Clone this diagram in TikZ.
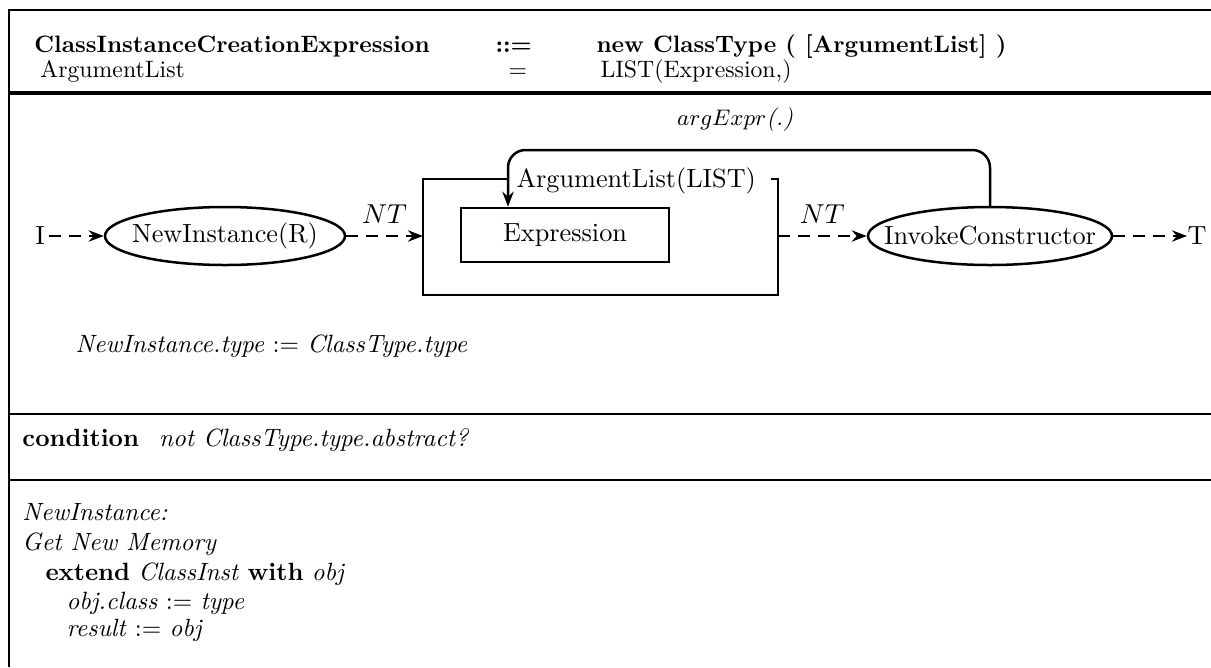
\documentclass[tikz,border=0pt]{standalone}
\usetikzlibrary{arrows.meta,shapes.geometric}
\tikzset{
  frame/.style={line width=1.15pt},
  thickframe/.style={line width=1.45pt},
  dfont/.style={font=\fontsize{10.5}{12.5}\selectfont},
  hfont/.style={font=\fontsize{9.5}{11.5}\selectfont},
  ell/.style={draw,ellipse,line width=1pt,inner ysep=0pt,inner xsep=-12pt,dfont},
  box/.style={draw,rectangle,line width=1pt,inner sep=0pt,dfont},
  dflow/.style={line width=1pt,dash pattern=on 4.8pt off 3.2pt,-{Stealth[length=6pt,width=4.5pt]}},
  loopflow/.style={line width=1pt,rounded corners=7pt,-{Stealth[length=6pt,width=4.5pt]}},
  txt/.style={inner sep=0pt,anchor=base west},
  htxt/.style={txt,hfont},
  lbl/.style={inner sep=0pt,dfont},
}
\begin{document}
\begin{tikzpicture}[x=0.4pt,y=-0.4pt,font=\fontsize{10}{12}\selectfont]
\useasboundingbox (0,0) rectangle (1211,667);
% frame
\draw[frame] (1211,10) -- (9,10) -- (9,667);
\draw[thickframe] (9,93) -- (1211,93);
\draw[frame] (9,414) -- (1211,414);
\draw[frame] (9,480) -- (1211,480);
% header
\node[htxt] (h1) at (34,52) {\textbf{ClassInstanceCreationExpression}};
\node[htxt] (h1b) at (495,52) {\textbf{::=}};
\node[htxt] (h1c) at (596,52) {\textbf{new ClassType ( [ArgumentList] )}};
\node[htxt] (h2) at (40,77) {ArgumentList};
\node[htxt] (h2b) at (508,77) {=};
\node[htxt] (h2c) at (600,77) {LIST(Expression,)};
% diagram
\node[lbl] (I) at (40,236) {I};
\node[ell,minimum width=96pt,minimum height=23.2pt] (NI) at (225,236) {NewInstance(R)};
\coordinate (ALw) at (423,236);
\coordinate (ALe) at (778,236);
\draw[line width=1pt] (508,179) -- (423,179) -- (423,295) -- (778,295) -- (778,179) -- (771,179);
\node[lbl,anchor=west] (ALl) at (516,181) {ArgumentList(LIST)};
\node[box,minimum width=83.2pt,minimum height=21.6pt] (E) at (565,235) {Expression};
\node[ell,minimum width=97.6pt,minimum height=23.2pt] (IC) at (990,236) {InvokeConstructor};
\node[lbl] (T) at (1197,236) {T};
\draw[dflow] (I.east) ++(4,0) coordinate (Is) (Is) -- (NI);
\draw[dflow] (NI) -- node[above=1pt,dfont] {$NT$} (ALw);
\draw[dflow] (ALe) -- node[above=1pt,dfont] {$NT$} (IC);
\draw[dflow] (IC) -- (T);
\draw[loopflow] (IC.north) -- (990,150) -- (508,150) -- (E.north -| 508,150);
\node[inner sep=0pt,font=\fontsize{9.5}{11}\selectfont] (ae) at (735,120) {$argExpr$\textit{(.)}};
\node[txt] (att) at (75,352) {\textit{NewInstance.type} $:=$ \textit{ClassType.type}};
% condition
\node[txt] (cond) at (22,446) {\textbf{condition}\hspace{0.8em}\textit{not ClassType.type.abstract?}};
% action
\node[txt] (a1) at (22,520) {\textit{NewInstance:}};
\node[txt] (a2) at (22,550) {\textit{Get New Memory}};
\node[txt] (a3) at (45,580) {\textbf{extend} \textit{ClassInst} \textbf{with} \textit{obj}};
\node[txt] (a4) at (66,609) {\textit{obj.class} $:=$ \textit{type}};
\node[txt] (a5) at (66,636) {\textit{result} $:=$ \textit{obj}};
\end{tikzpicture}
\end{document}
